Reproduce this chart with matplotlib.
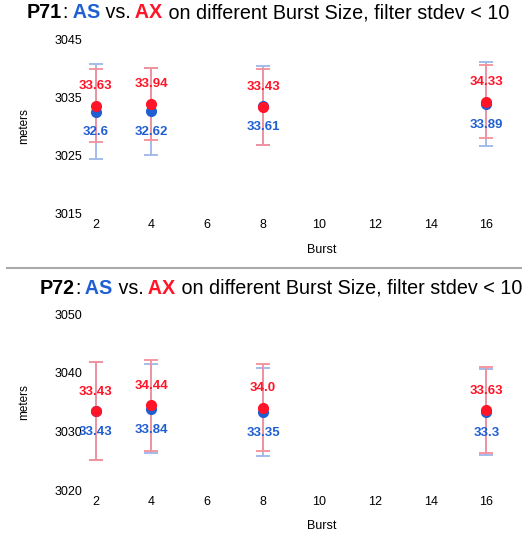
"""Burst size comparison of AS vs AX, two panels (P71, P72)."""

import matplotlib
matplotlib.use("Agg")
import matplotlib.pyplot as plt
from matplotlib.lines import Line2D

plt.rcParams['font.family'] = ['Liberation Sans', 'DejaVu Sans']

BLUE = "#1f5fd2"
RED = "#ff1428"
BLUE_LIGHT = "#9db6ea"
RED_LIGHT = "#f4909a"

bursts = [2, 4, 8, 16]

# P71
p71_as_mean = [3032.60, 3032.62, 3033.61, 3033.89]
p71_as_std = [8.3, 7.6, 6.8, 7.3]
p71_ax_mean = [3033.63, 3033.94, 3033.43, 3034.33]
p71_ax_std = [6.4, 6.2, 6.6, 6.4]

# P72
p72_as_mean = [3033.43, 3033.84, 3033.35, 3033.30]
p72_as_std = [8.4, 7.6, 7.5, 7.4]
p72_ax_mean = [3033.43, 3034.44, 3034.00, 3033.63]
p72_ax_std = [8.4, 7.8, 7.4, 7.4]

panels = [
    ("P71", p71_as_mean, p71_as_std, p71_ax_mean, p71_ax_std, (3015, 3045), [3015, 3025, 3035, 3045]),
    ("P72", p72_as_mean, p72_as_std, p72_ax_mean, p72_ax_std, (3020, 3050), [3020, 3030, 3040, 3050]),
]

W, H = 522, 535
fig = plt.figure(figsize=(W / 100, H / 100), dpi=100)

# axes boxes in pixels: (left, top, right, bottom)
boxes = [(85, 40, 520, 213), (85, 314, 520, 490)]
title_y = [13, 288]
title_x = [27, 40]
xlabel_y = [250, 526]

for (name, as_m, as_s, ax_m, ax_s, ylim, yticks), box, ty, tx, xly in zip(panels, boxes, title_y, title_x, xlabel_y):
    l, t, r, b = box
    ax = fig.add_axes([l / W, 1 - b / H, (r - l) / W, (b - t) / H])

    ax.errorbar(bursts, as_m, yerr=as_s, fmt='none', ecolor=BLUE_LIGHT,
                elinewidth=1.3, capsize=5, capthick=1.3, zorder=2)
    ax.errorbar(bursts, ax_m, yerr=ax_s, fmt='none', ecolor=RED_LIGHT,
                elinewidth=1.3, capsize=5, capthick=1.3, zorder=3)
    ax.plot(bursts, as_m, 'o', color=BLUE, markersize=7, zorder=4)
    ax.plot(bursts, ax_m, 'o', color=RED, markersize=7, zorder=5)

    for x, v in zip(bursts, as_m):
        ax.annotate(f"{round(v - 3000, 2)}", (x, v), textcoords="offset points", xytext=(0, -15),
                    ha="center", va="center", fontsize=9.5, fontweight="bold", color=BLUE, zorder=6)
    for x, v in zip(bursts, ax_m):
        ax.annotate(f"{round(v - 3000, 2)}", (x, v), textcoords="offset points", xytext=(0, 14),
                    ha="center", va="center", fontsize=9.5, fontweight="bold", color=RED, zorder=6)

    ax.set_xlim(1.62, 17.2)
    ax.set_ylim(*ylim)
    ax.set_xticks([2, 4, 6, 8, 10, 12, 14, 16])
    ax.set_yticks(yticks)
    ax.tick_params(length=0, labelsize=9)
    ax.tick_params(axis='y', pad=2)
    ax.tick_params(axis='x', pad=4)
    for s in ax.spines.values():
        s.set_visible(False)
    ax.set_xlabel("Burst", fontsize=9, va='center')
    ax.xaxis.set_label_coords((322 - l) / (r - l), (b - xly) / (b - t))
    ax.set_ylabel("meters", fontsize=8.5)
    ax.yaxis.set_label_coords((30 - l) / (r - l), 0.5)

    # title with coloured pieces
    parts = [(name, 'black', 'bold'), (":", 'black', 'normal'), (" AS", BLUE, 'bold'),
             (" vs.", 'black', 'normal'), (" AX", RED, 'bold'),
             (" on different Burst Size, filter stdev < 10", 'black', 'normal')]
    fig.canvas.draw()
    renderer = fig.canvas.get_renderer()
    xpos = tx
    for txt, c, w in parts:
        tt = fig.text(xpos / W, 1 - ty / H, txt, color=c, fontweight=w, fontsize=14.2,
                      ha='left', va='center')
        bb = tt.get_window_extent(renderer=renderer)
        xpos += bb.width

# separator line
fig.add_artist(Line2D([7 / W, 1.0], [1 - 268 / H, 1 - 268 / H], color="#aaaaaa", linewidth=1.5))

plt.savefig("out.png", dpi=100)
plt.close()
